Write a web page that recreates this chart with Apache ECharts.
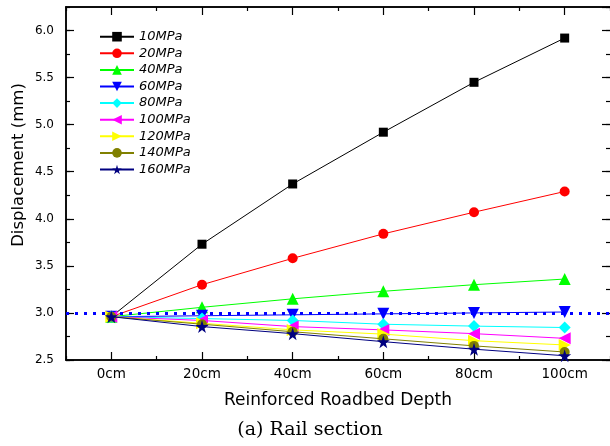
<!DOCTYPE html>
<html>
<head>
<meta charset="utf-8">
<script src="https://cdn.jsdelivr.net/npm/echarts@6/dist/echarts.min.js"></script>
<style>
html,body{margin:0;padding:0;background:#fff;}
#chart{width:610px;height:446px;}
</style>
</head>
<body>
<div id="chart"></div>
<script>
// ---- data ----
const categories = ['0cm', '20cm', '40cm', '60cm', '80cm', '100cm'];
const seriesNames = ['10MPa', '20MPa', '40MPa', '60MPa', '80MPa', '100MPa', '120MPa', '140MPa', '160MPa'];
const v10MPa  = [2.96, 3.73, 4.37, 4.92, 5.45, 5.92];
const v20MPa  = [2.96, 3.30, 3.58, 3.84, 4.07, 4.29];
const v40MPa  = [2.96, 3.06, 3.15, 3.23, 3.30, 3.36];
const v60MPa  = [2.96, 2.97, 2.98, 2.99, 3.00, 3.01];
const v80MPa  = [2.96, 2.94, 2.92, 2.88, 2.86, 2.845];
const v100MPa = [2.96, 2.92, 2.855, 2.82, 2.78, 2.73];
const v120MPa = [2.96, 2.89, 2.82, 2.775, 2.705, 2.66];
const v140MPa = [2.96, 2.88, 2.80, 2.725, 2.65, 2.585];
const v160MPa = [2.96, 2.855, 2.78, 2.695, 2.615, 2.545];
const referenceLevel = 3.0;
const yMin = 2.5, yMax = 6.25;
const xTitle = 'Reinforced Roadbed Depth';
const yTitle = 'Displacement (mm)';
const caption = '(a) Rail section';

// ---- styles ----
const values = [v10MPa, v20MPa, v40MPa, v60MPa, v80MPa, v100MPa, v120MPa, v140MPa, v160MPa];
const colors = ['#000000', '#ff0000', '#00ff00', '#0000ff', '#00ffff', '#ff00ff', '#ffff00', '#808000', '#000080'];
const starPath = 'path://M50,0 L61,35 L98,35 L68,57 L79,91 L50,70 L21,91 L32,57 L2,35 L39,35 Z';
const symbols = ['rect', 'circle', 'triangle', 'triangle', 'diamond', 'triangle', 'triangle', 'circle', starPath];
const rotates = [0, 0, 0, 180, 0, 90, -90, 0, 0];
const sizes = [9, 10, 12, 12, 12, 12, 12, 10, 13];

const sansFont = '"DejaVu Sans", "Liberation Sans", sans-serif';
const axisLineStyle = {color: '#000', width: 1.5};

function xAxisDef(pos, minor, labels) {
  return {
    type: 'category', data: categories, position: pos, boundaryGap: true,
    axisLine: {show: true, onZero: false, lineStyle: axisLineStyle},
    axisTick: {show: true, inside: true, alignWithLabel: !minor, length: minor ? 4 : 8, lineStyle: {color: '#000', width: 1.2}},
    axisLabel: {show: labels, color: '#000', fontFamily: sansFont, fontSize: 13.5, margin: 7},
    splitLine: {show: false},
    name: labels ? xTitle : '', nameLocation: 'middle', nameGap: 32,
    nameTextStyle: {color: '#000', fontFamily: sansFont, fontSize: 17}
  };
}
function yAxisDef(pos, minor, labels) {
  return {
    type: 'value', position: pos, min: yMin, max: yMax, interval: minor ? 0.25 : 0.5,
    axisLine: {show: pos === 'left', onZero: false, lineStyle: axisLineStyle},
    axisTick: {show: true, inside: true, length: minor ? 4 : 8, lineStyle: {color: '#000', width: 1.2}},
    axisLabel: {show: labels, showMaxLabel: false, color: '#000', fontFamily: sansFont, fontSize: 12, margin: 12,
      formatter: v => v.toFixed(1)},
    splitLine: {show: false}
  };
}

const series = seriesNames.map((name, i) => {
  const s = {
    name: name, type: 'line', data: values[i], xAxisIndex: 0, yAxisIndex: 0,
    symbol: symbols[i], symbolRotate: rotates[i], symbolSize: sizes[i],
    showSymbol: true, animation: false,
    lineStyle: {color: colors[i], width: 1},
    itemStyle: {color: colors[i], borderWidth: 0},
    z: 2 + i
  };
  if (name === '60MPa') {
    s.markLine = {
      silent: true, symbol: 'none', label: {show: false}, animation: false,
      lineStyle: {color: '#0000ff', type: [3, 6], width: 3},
      data: [{yAxis: referenceLevel}]
    };
  }
  return s;
});

const chart = echarts.init(document.getElementById('chart'), null, {renderer: 'canvas'});
chart.setOption({
  backgroundColor: '#ffffff',
  animation: false,
  grid: {left: 66, top: 7, right: 0, bottom: 86, containLabel: false},
  xAxis: [xAxisDef('bottom', false, true), xAxisDef('bottom', true, false), xAxisDef('top', false, false), xAxisDef('top', true, false)],
  yAxis: [yAxisDef('left', false, true), yAxisDef('left', true, false), yAxisDef('right', false, false), yAxisDef('right', true, false)],
  legend: {
    data: seriesNames, orient: 'vertical', left: 99, top: 30.2, padding: 0,
    itemWidth: 34, itemHeight: 12, itemGap: 3.6,
    textStyle: {color: '#000', fontFamily: sansFont, fontSize: 13, fontStyle: 'italic', lineHeight: 12}
  },
  graphic: [
    {type: 'text', x: 19, y: 165, rotation: Math.PI / 2,
      style: {text: yTitle, fill: '#000', fontFamily: sansFont, fontSize: 16.5, align: 'center', verticalAlign: 'middle'}},
    {type: 'text', x: 310, y: 430,
      style: {text: caption, fill: '#000', fontFamily: '"DejaVu Serif", "Liberation Serif", serif', fontSize: 19, align: 'center', verticalAlign: 'middle'}}
  ],
  series: series
});
</script>
</body>
</html>
